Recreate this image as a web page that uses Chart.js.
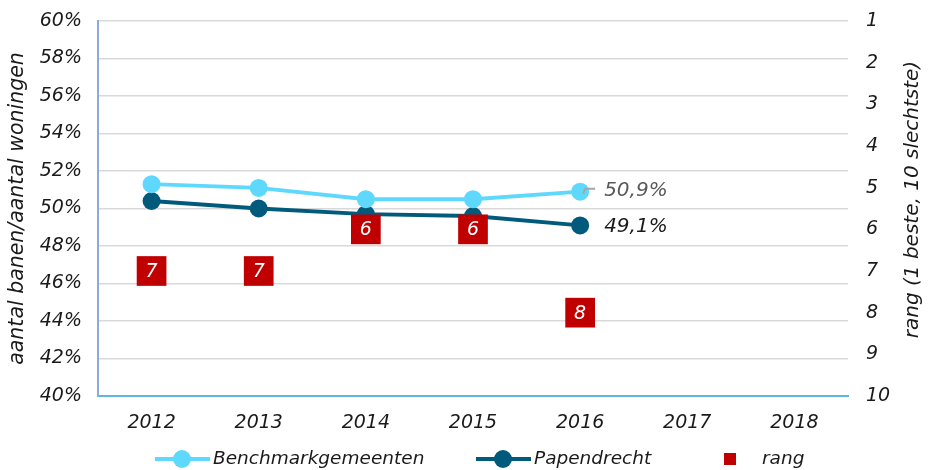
<!DOCTYPE html>
<html>
<head>
<meta charset="utf-8">
<script src="https://cdn.jsdelivr.net/npm/chart.js@4"></script>
<style>
  html, body { margin: 0; padding: 0; background: #fff; }
  #wrap { width: 935px; height: 470px; }
</style>
</head>
<body>
<div id="wrap"><canvas id="chart"></canvas></div>
<script>
"use strict";

// jaren op de x-as
const years = ["2012", "2013", "2014", "2015", "2016", "2017", "2018"];
// aandeel banen/woningen in procenten
const benchmark = [51.3, 51.1, 50.5, 50.5, 50.9, null, null];
const papendrecht = [50.4, 50.0, 49.7, 49.6, 49.1, null, null];
// rang van Papendrecht (1 beste, 10 slechtste)
const rang = [7, 7, 6, 6, 8, null, null];
// asbereik
const pctMin = 40, pctMax = 60, pctStep = 2;
const rangMin = 1, rangMax = 10;

const FONT = "'DejaVu Sans', Verdana, sans-serif";
const LIGHT = "#5fd8fd";
const DARK = "#005a7c";
const RED = "#c00000";

Chart.defaults.font.family = FONT;
Chart.defaults.color = "#1a1a1a";

//labels bij de punten en de rang-vierkantjes
const labelPlugin = {
    id: "labels",
    afterDatasetsDraw(chart) {
        const ctx = chart.ctx;
        ctx.save();
        ctx.font = "italic 19px " + FONT;
        ctx.textBaseline = "middle";

        //rang nummers in de vierkantjes
        const rMeta = chart.getDatasetMeta(0);
        ctx.fillStyle = "#fff";
        ctx.textAlign = "center";
        rMeta.data.forEach((pt, i) => {
            if (rang[i] == null) return;
            ctx.fillText(String(rang[i]), pt.x, pt.y + 1);
        });

        //laatste waarden
        const last = 4;
        const bPt = chart.getDatasetMeta(1).data[last];
        const pPt = chart.getDatasetMeta(2).data[last];
        ctx.strokeStyle = "#a6a6a6";
        ctx.lineWidth = 2;
        ctx.beginPath();
        ctx.moveTo(bPt.x + 3, bPt.y + 2);
        ctx.lineTo(bPt.x + 5, bPt.y - 3);
        ctx.lineTo(bPt.x + 15, bPt.y - 3);
        ctx.stroke();
        ctx.font = "italic 20px " + FONT;
        ctx.textAlign = "left";
        ctx.fillStyle = "#595959";
        ctx.fillText(benchmark[last].toFixed(1).replace(".", ",") + "%", bPt.x + 24, bPt.y - 1);
        ctx.fillStyle = "#1a1a1a";
        ctx.fillText(papendrecht[last].toFixed(1).replace(".", ",") + "%", pPt.x + 24, pPt.y + 1);
        ctx.restore();
    }
};

//legenda onderaan en titel van de rechter as
const legendPlugin = {
    id: "customLegend",
    afterDraw(chart) {
        const ctx = chart.ctx;
        ctx.save();
        ctx.font = "italic 18.5px " + FONT;
        ctx.textBaseline = "middle";
        ctx.textAlign = "left";
        const y = 459;
        const items = [
            { x: 155, color: LIGHT, text: "Benchmarkgemeenten" },
            { x: 476, color: DARK, text: "Papendrecht" }
        ];
        items.forEach(it => {
            ctx.strokeStyle = it.color;
            ctx.lineWidth = 4;
            ctx.beginPath();
            ctx.moveTo(it.x, y);
            ctx.lineTo(it.x + 55, y);
            ctx.stroke();
            ctx.fillStyle = it.color;
            ctx.beginPath();
            ctx.arc(it.x + 27, y, 9, 0, Math.PI * 2);
            ctx.fill();
            ctx.fillStyle = "#1a1a1a";
            ctx.fillText(it.text, it.x + 58, y);
        });
        ctx.fillStyle = RED;
        ctx.fillRect(724, 453, 12, 12);
        ctx.fillStyle = "#1a1a1a";
        ctx.fillText("rang", 762, y);

        //rechter as titel, van onder naar boven
        const area = chart.chartArea;
        ctx.font = "italic 20px " + FONT;
        ctx.translate(913, (area.top + area.bottom) / 2 - 9);
        ctx.rotate(-Math.PI / 2);
        ctx.textAlign = "center";
        ctx.fillText("rang (1 beste, 10 slechtste)", 0, 0);
        ctx.restore();
    }
};

//geen extra ruimte boven/onder voor de ticklabels
function fixPadding(width) {
    return s => {
        s.width = width;
        s.paddingTop = 0;
        s.paddingBottom = 0;
    };
}

new Chart(document.getElementById("chart"), {
    type: "line",
    data: {
        labels: years,
        datasets: [{
            label: "rang",
            data: rang,
            yAxisID: "y2",
            showLine: false,
            pointStyle: "rect",
            pointRadius: 21,
            pointHoverRadius: 21,
            pointBackgroundColor: RED,
            pointBorderWidth: 0,
            order: 0
        }, {
            label: "Benchmarkgemeenten",
            data: benchmark,
            yAxisID: "y",
            borderColor: LIGHT,
            backgroundColor: LIGHT,
            borderWidth: 4,
            pointRadius: 9,
            pointHoverRadius: 9,
            pointBorderWidth: 0,
            order: 1
        }, {
            label: "Papendrecht",
            data: papendrecht,
            yAxisID: "y",
            borderColor: DARK,
            backgroundColor: DARK,
            borderWidth: 4,
            pointRadius: 9,
            pointHoverRadius: 9,
            pointBorderWidth: 0,
            order: 2
        }]
    },
    options: {
        responsive: true,
        maintainAspectRatio: false,
        animation: false,
        layout: { padding: { top: 18, bottom: 24, left: 0, right: 0 } },
        plugins: {
            legend: { display: false },
            tooltip: { enabled: false }
        },
        scales: {
            x: {
                offset: true,
                grid: { display: false, drawTicks: false },
                border: { color: "#5ab9e0", width: 2 },
                ticks: { font: { size: 19, style: "italic" }, padding: 16, color: "#1a1a1a" },
                afterFit: s => { s.height = 50; s.paddingLeft = 0; s.paddingRight = 0; }
            },
            y: {
                position: "left",
                min: pctMin,
                max: pctMax,
                ticks: {
                    stepSize: pctStep,
                    padding: 16,
                    font: { size: 19, style: "italic" },
                    color: "#1a1a1a",
                    callback: v => v + "%"
                },
                grid: { color: "#d9d9d9", lineWidth: 1.5, drawTicks: false },
                border: { color: "#8eaadc", width: 2 },
                title: {
                    display: true,
                    text: "aantal banen/aantal woningen",
                    font: { size: 20.5, style: "italic" },
                    color: "#1a1a1a",
                    padding: { top: 5, bottom: 0 }
                },
                afterFit: fixPadding(98)
            },
            y2: {
                position: "right",
                reverse: true,
                min: rangMin,
                max: rangMax,
                ticks: {
                    stepSize: 1,
                    padding: 18,
                    font: { size: 19, style: "italic" },
                    color: "#1a1a1a"
                },
                grid: { display: false, drawTicks: false },
                border: { display: false },
                afterFit: fixPadding(87)
            }
        }
    },
    plugins: [labelPlugin, legendPlugin]
});
</script>
</body>
</html>
